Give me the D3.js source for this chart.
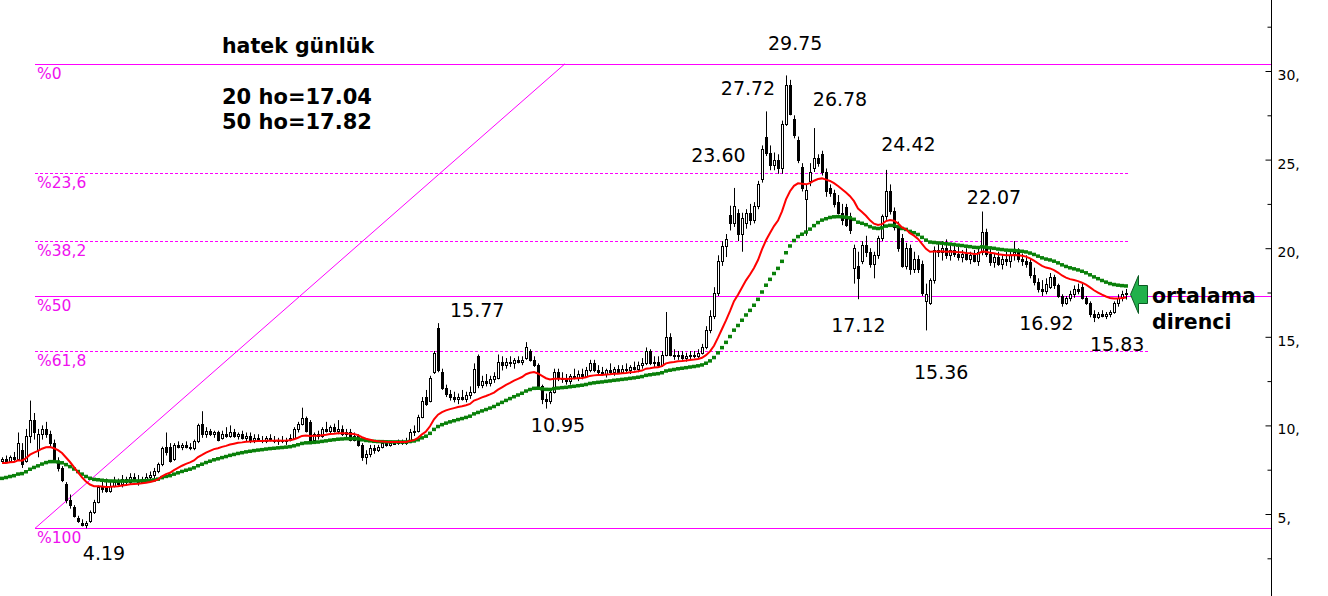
<!DOCTYPE html>
<html><head><meta charset="utf-8">
<script src="https://cdn.jsdelivr.net/npm/d3@7/dist/d3.min.js"></script>
<style>html,body{margin:0;padding:0;background:#fff;overflow:hidden}</style>
</head><body>
<svg id="c" width="1328" height="596"></svg>
<script>
// ---- data ----
// closes before the first visible candle (only feed the moving averages)
const priorCloses = [3.7,3.9,3.8,3.9,3.7,3.8,4.0,3.8,3.7,3.9,3.8,3.7,3.9,3.8,3.8,
  5.3,5.5,5.6,5.7,5.4,5.5,5.8,5.5,5.3,5.6,5.7,5.8,5.5,5.7,5.6,
  8.0,8.2,8.3,8.1,8.2,8.4,8.2,8.3,8.2,8.1,8.5,8.3,8.2,8.2,8.4,8.3,8.1,8.2,8.4,8.3];
// daily candles [open, high, low, close]
const candles = [
[8.0,8.2,7.9,8.1],[8.1,8.3,7.9,8.0],[8.0,8.3,7.9,8.2],[8.2,8.5,8.0,8.1],[8.1,9.6,8.0,9.0],
[8.6,9.0,7.6,7.8],[8.0,9.8,7.9,9.4],[9.4,11.4,9.0,10.3],[10.3,10.7,9.2,9.6],[8.6,9.8,8.2,9.5],
[9.5,10.0,9.2,9.8],[9.8,10.2,9.3,9.5],[9.5,9.7,8.8,9.0],[9.0,9.2,7.9,8.0],[8.0,8.2,7.4,7.6],
[7.6,7.7,6.8,6.9],[6.7,6.8,5.6,5.8],[5.8,6.1,5.3,5.5],[5.4,5.5,4.8,4.9],[4.8,4.9,4.5,4.6],
[4.5,4.7,4.3,4.4],[4.4,4.6,4.19,4.5],[4.6,5.2,4.5,5.1],[5.1,5.8,5.0,5.7],[5.7,6.6,5.6,6.5],
[6.5,6.9,6.2,6.4],[6.6,7.0,6.2,6.3],[6.3,6.8,6.2,6.6],[6.6,7.1,6.5,6.8],[6.8,7.0,6.6,6.7],
[6.7,7.2,6.5,7.0],[7.0,7.1,6.6,6.8],[6.8,7.3,6.7,7.1],[7.1,7.3,6.8,6.9],[6.9,7.2,6.6,6.8],
[6.8,7.1,6.7,7.0],[7.0,7.3,6.9,7.1],[7.1,7.4,6.9,7.2],[7.2,7.6,7.0,7.4],[7.4,7.9,7.3,7.8],
[7.8,8.8,7.7,8.7],[8.8,9.6,8.3,8.5],[8.8,9.0,7.9,8.0],[8.1,9.0,8.0,8.9],[8.9,9.1,8.7,8.8],
[8.8,9.0,8.6,8.9],[8.9,9.1,8.7,8.8],[8.8,9.0,8.6,8.7],[8.7,9.2,8.6,9.1],[9.1,10.1,9.0,10.0],
[10.1,10.8,9.3,9.5],[9.5,9.9,9.3,9.7],[9.7,9.8,9.4,9.5],[9.5,9.7,9.3,9.6],[9.6,9.7,9.1,9.2],
[9.3,9.7,9.2,9.5],[9.5,9.9,9.3,9.4],[9.4,10.0,9.3,9.6],[9.6,9.8,9.3,9.4],[9.4,9.6,9.2,9.5],
[9.5,9.7,9.2,9.3],[9.3,9.6,9.1,9.4],[9.4,9.6,9.0,9.2],[9.2,9.5,9.0,9.3],[9.3,9.5,9.1,9.2],
[9.2,9.4,9.0,9.1],[9.1,9.4,9.0,9.3],[9.3,9.5,9.1,9.2],[9.2,9.4,9.0,9.1],[9.1,9.3,8.9,9.2],
[9.2,9.4,9.0,9.1],[9.1,9.3,8.9,9.2],[9.2,9.5,9.1,9.3],[9.3,9.9,9.2,9.8],[9.8,10.2,9.6,10.1],
[10.1,11.0,10.0,10.4],[10.4,10.5,9.6,9.7],[10.2,10.3,9.0,9.1],[9.2,9.6,9.0,9.5],[9.5,9.7,9.2,9.4],
[9.4,9.9,9.3,9.8],[9.8,10.2,9.6,9.7],[9.7,10.0,9.5,9.9],[9.9,10.1,9.6,9.7],[9.7,10.3,9.5,9.8],
[9.8,10.0,9.4,9.5],[9.5,9.8,9.3,9.6],[9.6,9.8,9.1,9.2],[9.2,9.6,9.1,9.4],[9.4,9.5,8.8,8.9],
[8.9,9.0,8.0,8.2],[8.2,8.6,7.8,8.4],[8.4,8.9,8.2,8.7],[8.7,8.9,8.4,8.6],[8.6,8.9,8.5,8.8],
[8.8,9.1,8.7,9.0],[9.0,9.1,8.8,8.9],[8.9,9.1,8.8,9.0],[9.0,9.1,8.9,9.0],[9.0,9.2,8.9,9.1],
[9.1,9.2,8.9,9.0],[9.0,9.3,8.9,9.1],[9.1,9.8,9.0,9.6],[9.6,10.0,9.4,9.7],[9.7,10.6,9.6,10.5],
[10.5,11.6,10.4,11.4],[11.6,12.0,11.1,11.2],[11.4,12.8,11.3,12.7],[13.0,14.2,12.9,14.1],[15.5,15.77,13.0,13.1],
[13.0,13.2,12.0,12.1],[12.1,12.3,11.6,11.8],[11.8,12.0,11.4,11.6],[11.6,11.9,11.3,11.5],[11.5,11.8,11.2,11.6],
[11.6,12.0,11.4,11.5],[11.5,11.9,11.3,11.7],[11.7,12.2,11.5,11.9],[11.9,13.5,11.8,13.2],[13.9,14.0,12.1,12.3],
[12.3,12.8,12.1,12.5],[12.5,12.9,12.2,12.4],[12.4,12.8,12.2,12.6],[12.6,13.0,12.4,12.8],[12.7,14.0,12.6,13.6],
[13.6,13.9,13.1,13.4],[13.4,13.8,13.2,13.6],[13.6,13.9,13.3,13.5],[13.5,13.8,13.2,13.7],[13.7,13.9,13.5,13.6],
[13.6,13.9,13.4,13.7],[13.8,14.7,13.7,14.4],[14.2,14.3,13.6,13.7],[13.7,13.9,13.3,13.4],[13.4,13.5,12.1,12.2],
[12.2,12.3,11.2,11.5],[11.5,11.8,10.95,11.4],[11.4,12.0,11.2,11.9],[11.9,13.2,11.8,13.0],[13.0,13.2,12.5,12.7],
[12.7,13.0,12.4,12.6],[12.6,12.9,12.3,12.5],[12.5,12.9,12.3,12.8],[12.8,13.2,12.6,12.7],[12.7,13.1,12.5,12.9],
[12.9,13.2,12.6,12.8],[12.8,13.3,12.7,13.1],[13.1,13.7,13.0,13.5],[13.5,13.7,13.0,13.1],[13.1,13.4,12.8,13.0],
[13.0,13.3,12.8,12.9],[12.9,13.2,12.7,13.1],[13.1,13.5,12.9,13.0],[13.0,13.3,12.8,13.2],[13.2,13.4,12.9,13.0],
[13.0,13.4,12.9,13.2],[13.2,13.5,13.0,13.1],[13.1,13.4,12.9,13.3],[13.3,13.6,13.1,13.2],[13.2,13.6,13.0,13.4],
[13.4,13.8,13.2,13.5],[13.5,14.4,13.4,14.2],[14.2,14.3,13.4,13.5],[13.5,13.9,13.3,13.6],[13.6,13.9,13.3,13.4],
[13.4,14.2,13.3,14.0],[14.0,16.4,13.9,15.0],[15.0,15.2,13.9,14.0],[14.0,14.3,13.7,13.9],[13.9,14.2,13.7,14.0],
[14.0,14.2,13.7,13.8],[13.8,14.1,13.6,13.9],[13.9,14.2,13.7,14.0],[14.0,14.2,13.8,13.9],[13.9,14.3,13.8,14.1],
[14.1,14.6,14.0,14.4],[14.4,15.6,14.3,15.4],[15.4,16.5,15.2,16.2],[16.2,17.8,16.0,17.5],[17.5,19.6,17.3,19.3],
[19.3,20.4,19.0,20.1],[20.1,20.8,19.5,20.5],[21.9,22.4,21.0,21.4],[21.4,23.4,21.2,22.4],[22.0,22.2,20.4,20.8],
[20.8,22.0,19.8,21.7],[21.4,22.2,21.1,22.0],[22.0,22.5,21.3,21.6],[21.6,22.6,21.4,22.4],[22.4,23.8,22.2,23.6],
[23.9,25.8,23.7,25.6],[26.3,27.72,25.2,25.4],[25.4,25.8,24.4,24.7],[24.7,25.4,24.4,25.0],[25.0,25.3,24.2,24.5],
[24.5,27.2,24.2,27.0],[27.0,29.75,26.9,29.2],[29.2,29.5,27.5,27.6],[27.3,27.5,26.2,26.4],[26.1,26.3,24.8,25.0],
[24.6,24.8,23.2,23.4],[22.8,23.6,20.7,23.3],[23.8,24.8,23.5,24.3],[24.5,26.78,24.3,25.1],[25.1,25.3,24.6,24.8],
[25.3,25.5,24.1,24.3],[24.3,24.5,22.9,23.2],[23.4,23.6,22.9,23.1],[23.1,23.3,22.3,22.5],[22.6,23.0,21.9,22.0],
[22.0,22.5,21.3,21.6],[22.3,22.5,21.2,21.3],[21.8,22.0,20.8,21.0],[18.9,20.2,18.0,20.0],[19.0,19.8,17.12,18.3],
[19.3,20.4,19.1,20.2],[20.2,20.7,19.5,19.8],[19.8,20.0,18.9,19.1],[19.1,19.8,18.3,19.6],[19.6,20.7,19.4,20.6],
[20.6,21.9,20.4,21.8],[21.8,24.42,21.6,23.2],[23.2,23.6,21.9,22.1],[22.1,22.3,21.0,21.2],[21.2,21.5,19.8,20.0],
[20.6,20.8,18.9,19.0],[19.0,20.3,18.8,20.0],[20.0,20.2,18.5,18.8],[18.8,19.8,18.6,19.4],[19.4,19.6,18.6,18.8],
[19.1,19.3,17.3,17.5],[17.0,18.0,15.36,17.4],[16.9,18.3,16.8,18.2],[18.2,20.1,18.0,19.9],[19.9,20.3,19.5,19.8],
[19.8,20.4,19.3,20.0],[20.0,20.5,19.4,19.6],[19.6,20.2,19.3,19.9],[19.9,20.3,19.5,19.7],[19.7,20.1,19.3,19.5],
[19.5,19.9,19.2,19.7],[19.7,20.0,19.3,19.4],[19.4,19.8,19.1,19.6],[19.6,19.9,19.2,19.3],[19.3,20.0,19.0,19.8],
[19.8,22.07,19.6,20.9],[20.9,21.1,19.5,19.7],[19.7,20.0,19.0,19.2],[19.2,19.7,18.9,19.5],[19.5,19.8,19.0,19.1],
[19.1,19.6,18.8,19.4],[19.4,19.8,19.0,19.3],[19.3,19.8,18.9,19.6],[19.6,20.4,19.3,19.8],[19.8,20.0,19.2,19.4],
[19.4,19.7,19.0,19.3],[19.3,19.6,18.9,19.1],[19.2,19.4,18.3,18.5],[18.5,18.9,17.9,18.1],[18.1,18.3,17.5,17.7],
[17.7,18.2,17.3,17.6],[17.6,18.3,17.4,18.0],[17.8,18.6,17.7,18.4],[18.4,18.5,17.7,17.9],[17.9,18.0,17.2,17.3],
[17.3,17.4,16.7,16.9],[16.9,17.3,16.8,17.2],[17.2,17.6,17.0,17.4],[17.4,17.9,17.2,17.7],[17.7,18.0,17.4,17.6],
[17.8,18.0,17.1,17.2],[17.2,17.3,16.8,16.9],[16.9,17.0,16.1,16.3],[16.3,16.5,15.83,16.1],[16.1,16.4,16.0,16.3],
[16.3,16.5,16.1,16.2],[16.2,16.4,16.0,16.3],[16.3,16.5,16.1,16.4],[16.4,17.0,16.3,16.9],[16.9,17.4,16.7,17.2],
[17.2,17.6,17.0,17.4],[17.4,17.7,17.1,17.5]
];
// periods of the red and green averages (green smoothing tuned to the drawn curve)
const maPeriods = [20, 40];
const fibLow = 4.19, fibHigh = 30.41;
const fibRatios = [0, 0.236, 0.382, 0.5, 0.618, 1];
const fibLabels = ["%0", "%23,6", "%38,2", "%50", "%61,8", "%100"];
const fibDashed = [false, true, true, false, true, false];
const fibEndIndex = [null, 281.5, 281.5, null, 287, null];   // null = to the price axis
const trendLine = [[8.25, 4.19], [140.75, 30.41]];
const peakLabels = [
  {t:"29.75", i:191.5, v:31.2}, {t:"27.72", i:179.7, v:28.65}, {t:"26.78", i:202.7, v:28.0},
  {t:"23.60", i:172.3, v:24.85}, {t:"24.42", i:219.8, v:25.5}, {t:"22.07", i:241.2, v:22.5},
  {t:"15.77", i:112, v:16.1}, {t:"10.95", i:132.2, v:9.6}, {t:"4.19", i:20.2, v:2.4},
  {t:"17.12", i:207.3, v:15.27}, {t:"15.36", i:228, v:12.62}, {t:"16.92", i:254.3, v:15.38},
  {t:"15.83", i:272, v:14.2}
];
const titleLines = ["hatek günlük", "20 ho=17.04", "50 ho=17.82"];
const noteLines = ["ortalama", "direnci"];
const yMajorTicks = [5, 10, 15, 20, 25, 30];
const yMinorTicks = [2.5, 7.5, 12.5, 17.5, 22.5, 27.5, 32.5];

// ---- chart ----
const svg = d3.select("#c");
const W = 1328, H = 596, axisX = 1271.5;
const x = d3.scaleLinear().domain([0, candles.length - 1]).range([2, 2 + 4 * (candles.length - 1)]);
const y = d3.scaleLinear().domain([30, 5]).range([71, 514]);
const MAG = "#ff00ff", MAGT = "#ee10ee";

// fib levels
const fg = svg.append("g");
fibRatios.forEach((r, k) => {
  const v = fibHigh - r * (fibHigh - fibLow);
  const yy = Math.round(y(v)) + 0.5;
  const x2 = fibEndIndex[k] == null ? axisX : x(fibEndIndex[k]);
  fg.append("line").attr("x1", x(trendLine[0][0])).attr("x2", x2).attr("y1", yy).attr("y2", yy)
    .attr("stroke", MAG).attr("stroke-width", 1)
    .attr("stroke-dasharray", fibDashed[k] ? "3,2" : null);
  fg.append("text").attr("x", x(trendLine[0][0]) + 2).attr("y", yy + 14.5)
    .attr("fill", MAGT).attr("font-family", "DejaVu Sans, Verdana, sans-serif")
    .attr("font-size", 15.5).text(fibLabels[k]);
});
fg.append("line").attr("x1", x(trendLine[0][0])).attr("y1", y(trendLine[0][1]))
  .attr("x2", x(trendLine[1][0])).attr("y2", y(trendLine[1][1]))
  .attr("stroke", MAG).attr("stroke-width", 1);

// candles
const cg = svg.append("g");
candles.forEach((d, i) => {
  const [o, h, l, c] = d;
  const cx = Math.round(x(i));
  cg.append("line").attr("x1", cx + 0.5).attr("x2", cx + 0.5)
    .attr("y1", y(h)).attr("y2", y(l)).attr("stroke", "#000").attr("stroke-width", 1);
  const top = Math.round(y(Math.max(o, c))), bot = Math.round(y(Math.min(o, c)));
  const up = c >= o;
  cg.append("rect").attr("x", cx - 1 + 0.5).attr("y", top + 0.5)
    .attr("width", 2).attr("height", Math.max(bot - top, 1))
    .attr("fill", up ? "#fff" : "#000").attr("stroke", "#000").attr("stroke-width", 1);
});

// exponential moving averages computed from the closes
const allCloses = priorCloses.concat(candles.map(d => d[3]));
function ema(n) {
  const a = 2 / (n + 1);
  let e = allCloses[0];
  const out = [];
  allCloses.forEach((c, j) => {
    e = j === 0 ? c : a * c + (1 - a) * e;
    if (j >= priorCloses.length) out.push(e);
  });
  return out;
}
const ma20 = ema(maPeriods[0]), ma50 = ema(maPeriods[1]);
svg.append("g").selectAll("rect").data(ma50).join("rect")
  .attr("x", (d, i) => x(i) - 2).attr("y", d => y(d) - 1.75)
  .attr("width", 4).attr("height", 3.5).attr("fill", "#0a800a");
svg.append("path").datum(ma20)
  .attr("d", d3.line().x((d, i) => x(i)).y(d => y(d)))
  .attr("fill", "none").attr("stroke", "#ff0000").attr("stroke-width", 2);

// price axis
svg.append("line").attr("x1", axisX).attr("x2", axisX).attr("y1", 0).attr("y2", H)
  .attr("stroke", "#000").attr("stroke-width", 1);
const ax = svg.append("g").attr("transform", `translate(${axisX},0)`)
  .call(d3.axisRight(y).tickValues(yMajorTicks).tickSizeInner(-6).tickSizeOuter(0)
    .tickPadding(6).tickFormat(d => d + ","));
ax.select(".domain").remove();
ax.selectAll("text").attr("font-family", "DejaVu Sans, Verdana, sans-serif")
  .attr("font-size", 14).attr("fill", "#000").attr("dy", "0.6em");
const ax2 = svg.append("g").attr("transform", `translate(${axisX},0)`)
  .call(d3.axisRight(y).tickValues(yMinorTicks).tickSizeInner(-4).tickSizeOuter(0).tickFormat(""));
ax2.select(".domain").remove();

// value labels
svg.append("g").selectAll("text").data(peakLabels).join("text")
  .attr("x", d => x(d.i)).attr("y", d => y(d.v))
  .attr("font-family", "DejaVu Sans, Verdana, sans-serif").attr("font-size", 19)
  .attr("fill", "#000").text(d => d.t);

// title block
const tb = svg.append("g").attr("font-family", "DejaVu Sans, Verdana, sans-serif")
  .attr("font-weight", "bold").attr("fill", "#000");
tb.append("text").attr("x", 222).attr("y", 53).attr("font-size", 20.5).text(titleLines[0]);
tb.append("text").attr("x", 222).attr("y", 104).attr("font-size", 21).text(titleLines[1]);
tb.append("text").attr("x", 222).attr("y", 129).attr("font-size", 21).text(titleLines[2]);
tb.append("text").attr("x", 1152).attr("y", 303).attr("font-size", 20.5).text(noteLines[0]);
tb.append("text").attr("x", 1152).attr("y", 329).attr("font-size", 20.5).text(noteLines[1]);

// arrow
svg.append("path")
  .attr("d", "M1130.5,294.5 L1138.5,275.5 L1138.5,285.5 L1147.5,285.5 L1147.5,303.5 L1138.5,303.5 L1138.5,313.5 Z")
  .attr("fill", "#22b14c").attr("stroke", "#0b5a22").attr("stroke-width", 1);
</script>
</body></html>
